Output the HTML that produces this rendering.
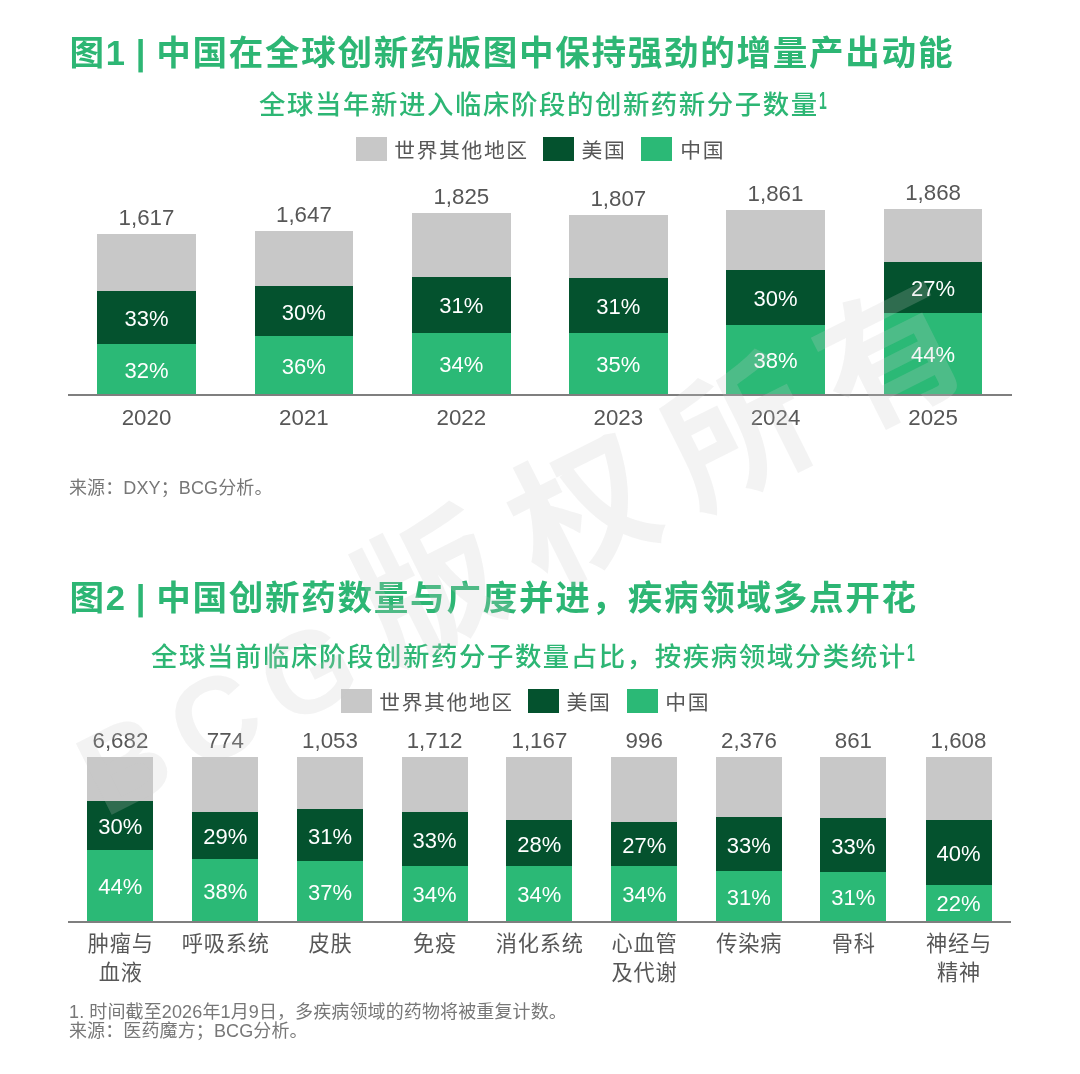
<!DOCTYPE html>
<html lang="zh-CN">
<head>
<meta charset="utf-8">
<title>BCG 创新药图表</title>
<style>
*{margin:0;padding:0;box-sizing:border-box}
html,body{width:1080px;height:1074px;background:#fff;overflow:hidden}
body{position:relative;font-family:"Liberation Sans","Noto Sans CJK SC",sans-serif;color:#575757}
.a{position:absolute;white-space:nowrap;line-height:1}
.t{font-weight:bold;font-size:34.6px;letter-spacing:1.69px;word-spacing:-2.2px;color:#2db674;left:69.5px}
.s{font-size:26.4px;letter-spacing:1.6px;font-weight:500;color:#2db674}
.s sup{display:inline-block;font-size:24px;font-weight:700;letter-spacing:0;vertical-align:top;position:relative;top:-3px;left:0px;line-height:1;transform:scaleX(0.58);transform-origin:0 0}
.lg{font-size:20.8px;letter-spacing:1.6px}
.sq{position:absolute;width:31.5px;height:24px}
.g{background:#c8c8c8}.d{background:#04522e}.l{background:#2bb976}
.b{position:absolute}
.n{font-size:22.3px;text-align:center;transform:translateX(-50%)}
.p{font-size:22px;color:#fff;text-align:center;transform:translateX(-50%)}
.c{font-size:21.2px;letter-spacing:0.8px;padding-left:0.8px;text-align:center;transform:translateX(-50%);line-height:29px;white-space:nowrap}
.f{font-size:18px;letter-spacing:0.12px;color:#777;left:69px}
.ax{position:absolute;height:2px;background:#7f7f7f}
.wm{position:absolute;left:366.8px;top:621.2px;width:0;height:0;transform:rotate(-26.6deg);transform-origin:0 0;font-weight:bold;color:rgba(200,200,200,0.22);white-space:nowrap;line-height:1;pointer-events:none}
.wm b{position:absolute;right:14px;top:19px;transform:translateY(-50%);font-size:116px;letter-spacing:17px}
.wm span{position:absolute;left:0;top:0;transform:translateY(-50%);font-size:142px;letter-spacing:30px}
</style>
</head>
<body>
<div class="a t" style="top:35.8px">图1 | 中国在全球创新药版图中保持强劲的增量产出动能</div>
<div class="a s" style="left:259px;top:91.5px">全球当年新进入临床阶段的创新药新分子数量<sup>1</sup></div>
<div class="sq g" style="left:355.5px;top:137px"></div><div class="a lg" style="left:394.3px;top:141px">世界其他地区</div>
<div class="sq d" style="left:542.6px;top:137px"></div><div class="a lg" style="left:581.5px;top:141px">美国</div>
<div class="sq l" style="left:640.7px;top:137px"></div><div class="a lg" style="left:680.3px;top:141px">中国</div>
<div class="b g" style="left:97.2px;top:234px;width:98.6px;height:161.3px"></div>
<div class="b d" style="left:97.2px;top:291px;width:98.6px;height:104.3px"></div>
<div class="b l" style="left:97.2px;top:344px;width:98.6px;height:51.3px"></div>
<div class="a n" style="left:146.5px;top:207px">1,617</div>
<div class="a p" style="left:146.5px;top:308.2px">33%</div>
<div class="a p" style="left:146.5px;top:359.95px">32%</div>
<div class="a n" style="left:146.5px;top:407.0px">2020</div>
<div class="b g" style="left:254.6px;top:231px;width:98.6px;height:164.3px"></div>
<div class="b d" style="left:254.6px;top:286px;width:98.6px;height:109.3px"></div>
<div class="b l" style="left:254.6px;top:336px;width:98.6px;height:59.3px"></div>
<div class="a n" style="left:303.9px;top:204px">1,647</div>
<div class="a p" style="left:303.9px;top:301.7px">30%</div>
<div class="a p" style="left:303.9px;top:355.95px">36%</div>
<div class="a n" style="left:303.9px;top:407.0px">2021</div>
<div class="b g" style="left:412px;top:213.4px;width:98.6px;height:181.9px"></div>
<div class="b d" style="left:412px;top:276.5px;width:98.6px;height:118.8px"></div>
<div class="b l" style="left:412px;top:333px;width:98.6px;height:62.3px"></div>
<div class="a n" style="left:461.3px;top:186.4px">1,825</div>
<div class="a p" style="left:461.3px;top:295.45px">31%</div>
<div class="a p" style="left:461.3px;top:354.45px">34%</div>
<div class="a n" style="left:461.3px;top:407.0px">2022</div>
<div class="b g" style="left:569px;top:215px;width:98.6px;height:180.3px"></div>
<div class="b d" style="left:569px;top:277.5px;width:98.6px;height:117.8px"></div>
<div class="b l" style="left:569px;top:332.5px;width:98.6px;height:62.8px"></div>
<div class="a n" style="left:618.3px;top:188px">1,807</div>
<div class="a p" style="left:618.3px;top:295.7px">31%</div>
<div class="a p" style="left:618.3px;top:354.2px">35%</div>
<div class="a n" style="left:618.3px;top:407.0px">2023</div>
<div class="b g" style="left:726.2px;top:209.6px;width:98.6px;height:185.7px"></div>
<div class="b d" style="left:726.2px;top:269.8px;width:98.6px;height:125.5px"></div>
<div class="b l" style="left:726.2px;top:325px;width:98.6px;height:70.3px"></div>
<div class="a n" style="left:775.5px;top:182.6px">1,861</div>
<div class="a p" style="left:775.5px;top:288.1px">30%</div>
<div class="a p" style="left:775.5px;top:350.45px">38%</div>
<div class="a n" style="left:775.5px;top:407.0px">2024</div>
<div class="b g" style="left:883.8px;top:208.6px;width:98.6px;height:186.7px"></div>
<div class="b d" style="left:883.8px;top:261.8px;width:98.6px;height:133.5px"></div>
<div class="b l" style="left:883.8px;top:313px;width:98.6px;height:82.3px"></div>
<div class="a n" style="left:933.1px;top:181.6px">1,868</div>
<div class="a p" style="left:933.1px;top:278.1px">27%</div>
<div class="a p" style="left:933.1px;top:344.45px">44%</div>
<div class="a n" style="left:933.1px;top:407.0px">2025</div>
<div class="ax" style="left:68px;top:394.3px;width:944px"></div>
<div class="a f" style="top:478.5px">来源：DXY；BCG分析。</div>
<div class="a t" style="top:581.3px">图2 | 中国创新药数量与广度并进，疾病领域多点开花</div>
<div class="a s" style="left:151px;top:643.5px">全球当前临床阶段创新药分子数量占比，按疾病领域分类统计<sup>1</sup></div>
<div class="sq g" style="left:340.5px;top:689px"></div><div class="a lg" style="left:379.3px;top:693px">世界其他地区</div>
<div class="sq d" style="left:527.6px;top:689px"></div><div class="a lg" style="left:566.5px;top:693px">美国</div>
<div class="sq l" style="left:626.7px;top:689px"></div><div class="a lg" style="left:665.3px;top:693px">中国</div>
<div class="b g" style="left:87.4px;top:757px;width:66px;height:164.5px"></div>
<div class="b d" style="left:87.4px;top:801px;width:66px;height:120.5px"></div>
<div class="b l" style="left:87.4px;top:850px;width:66px;height:71.5px"></div>
<div class="a n" style="left:120.4px;top:729.5px">6,682</div>
<div class="a p" style="left:120.4px;top:816.2px">30%</div>
<div class="a p" style="left:120.4px;top:876.05px">44%</div>
<div class="a c" style="left:120.4px;top:929.0px">肿瘤与<br>血液</div>
<div class="b g" style="left:192.4px;top:757px;width:66px;height:164.5px"></div>
<div class="b d" style="left:192.4px;top:811.5px;width:66px;height:110.0px"></div>
<div class="b l" style="left:192.4px;top:859px;width:66px;height:62.5px"></div>
<div class="a n" style="left:225.4px;top:729.5px">774</div>
<div class="a p" style="left:225.4px;top:825.95px">29%</div>
<div class="a p" style="left:225.4px;top:880.55px">38%</div>
<div class="a c" style="left:225.4px;top:929.0px">呼吸系统</div>
<div class="b g" style="left:297px;top:757px;width:66px;height:164.5px"></div>
<div class="b d" style="left:297px;top:809px;width:66px;height:112.5px"></div>
<div class="b l" style="left:297px;top:861px;width:66px;height:60.5px"></div>
<div class="a n" style="left:330.0px;top:729.5px">1,053</div>
<div class="a p" style="left:330.0px;top:825.7px">31%</div>
<div class="a p" style="left:330.0px;top:881.55px">37%</div>
<div class="a c" style="left:330.0px;top:929.0px">皮肤</div>
<div class="b g" style="left:401.6px;top:757px;width:66px;height:164.5px"></div>
<div class="b d" style="left:401.6px;top:812px;width:66px;height:109.5px"></div>
<div class="b l" style="left:401.6px;top:866px;width:66px;height:55.5px"></div>
<div class="a n" style="left:434.6px;top:729.5px">1,712</div>
<div class="a p" style="left:434.6px;top:829.7px">33%</div>
<div class="a p" style="left:434.6px;top:884.05px">34%</div>
<div class="a c" style="left:434.6px;top:929.0px">免疫</div>
<div class="b g" style="left:506.4px;top:757px;width:66px;height:164.5px"></div>
<div class="b d" style="left:506.4px;top:820px;width:66px;height:101.5px"></div>
<div class="b l" style="left:506.4px;top:866px;width:66px;height:55.5px"></div>
<div class="a n" style="left:539.4px;top:729.5px">1,167</div>
<div class="a p" style="left:539.4px;top:833.7px">28%</div>
<div class="a p" style="left:539.4px;top:884.05px">34%</div>
<div class="a c" style="left:539.4px;top:929.0px">消化系统</div>
<div class="b g" style="left:611.2px;top:757px;width:66px;height:164.5px"></div>
<div class="b d" style="left:611.2px;top:822px;width:66px;height:99.5px"></div>
<div class="b l" style="left:611.2px;top:866px;width:66px;height:55.5px"></div>
<div class="a n" style="left:644.2px;top:729.5px">996</div>
<div class="a p" style="left:644.2px;top:834.7px">27%</div>
<div class="a p" style="left:644.2px;top:884.05px">34%</div>
<div class="a c" style="left:644.2px;top:929.0px">心血管<br>及代谢</div>
<div class="b g" style="left:715.9px;top:757px;width:66px;height:164.5px"></div>
<div class="b d" style="left:715.9px;top:817.2px;width:66px;height:104.3px"></div>
<div class="b l" style="left:715.9px;top:871.4px;width:66px;height:50.1px"></div>
<div class="a n" style="left:748.9px;top:729.5px">2,376</div>
<div class="a p" style="left:748.9px;top:835.0px">33%</div>
<div class="a p" style="left:748.9px;top:886.75px">31%</div>
<div class="a c" style="left:748.9px;top:929.0px">传染病</div>
<div class="b g" style="left:820.4px;top:757px;width:66px;height:164.5px"></div>
<div class="b d" style="left:820.4px;top:817.8px;width:66px;height:103.7px"></div>
<div class="b l" style="left:820.4px;top:872px;width:66px;height:49.5px"></div>
<div class="a n" style="left:853.4px;top:729.5px">861</div>
<div class="a p" style="left:853.4px;top:835.6px">33%</div>
<div class="a p" style="left:853.4px;top:887.05px">31%</div>
<div class="a c" style="left:853.4px;top:929.0px">骨科</div>
<div class="b g" style="left:925.5px;top:757px;width:66px;height:164.5px"></div>
<div class="b d" style="left:925.5px;top:819.8px;width:66px;height:101.7px"></div>
<div class="b l" style="left:925.5px;top:884.8px;width:66px;height:36.7px"></div>
<div class="a n" style="left:958.5px;top:729.5px">1,608</div>
<div class="a p" style="left:958.5px;top:843.0px">40%</div>
<div class="a p" style="left:958.5px;top:893.45px">22%</div>
<div class="a c" style="left:958.5px;top:929.0px">神经与<br>精神</div>
<div class="ax" style="left:68px;top:920.5px;width:943px"></div>
<div class="a f" style="top:1003.3px">1. 时间截至2026年1月9日，多疾病领域的药物将被重复计数。</div>
<div class="a f" style="top:1022px">来源：医药魔方；BCG分析。</div>
<div class="wm"><b>BCG</b><span>版权所有</span></div>
</body>
</html>
